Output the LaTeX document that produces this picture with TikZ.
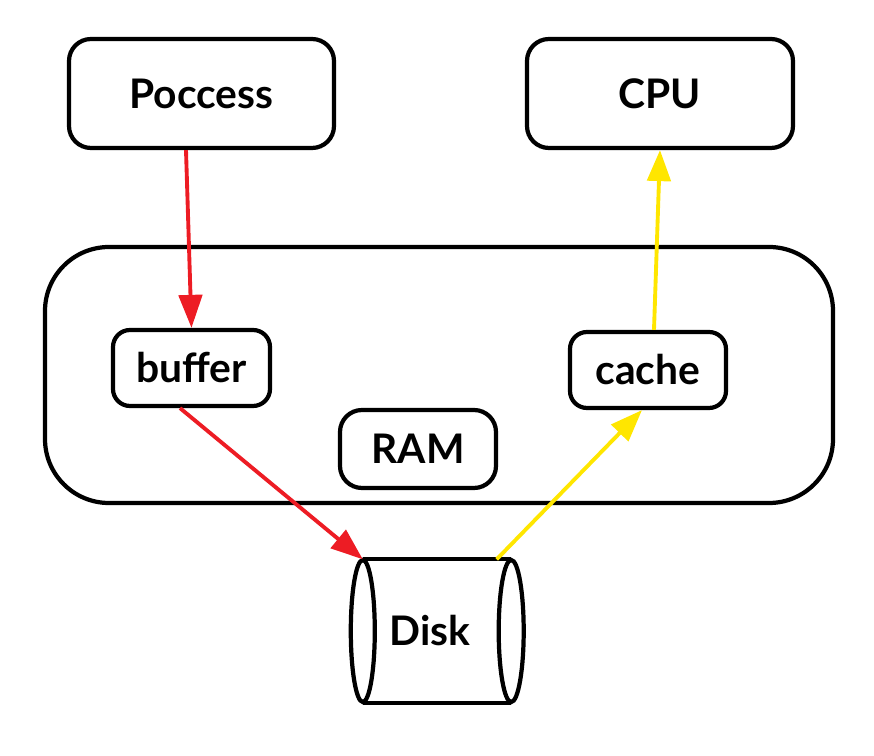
\documentclass[tikz,border=0pt]{standalone}
\usepackage{fontspec}
\setmainfont{Lato}
\usepackage{xcolor}
\usetikzlibrary{shapes,arrows,positioning,calc,arrows.meta}
\definecolor{flowred}{RGB}{237,28,36}
\definecolor{flowyellow}{RGB}{255,230,0}

\begin{document}
\begin{tikzpicture}[
    box/.style={draw, line width=1.2pt, rounded corners=0.22cm, inner sep=0pt,
        font=\fontsize{11.6}{13}\selectfont\bfseries},
    flow/.style={line width=1.1pt, -{Triangle[length=#1]}},
    redflow/.style={draw=flowred, fill=flowred},
    yellowflow/.style={draw=flowyellow, fill=flowyellow}
]
    \useasboundingbox (0,0) rectangle (8.74,7.56);

    % Memory
    \node[draw, line width=1.2pt, rounded corners=0.64cm, minimum width=7.88cm, minimum height=2.56cm] (ram) at (4.39,3.81) {};
    \node[box, minimum width=1.56cm, minimum height=0.78cm] (ramlabel) at (4.18,3.07) {RAM};
    \node[box, rounded corners=0.17cm, minimum width=1.57cm, minimum height=0.76cm] (buffer) at (1.915,3.88) {buffer};
    \node[box, rounded corners=0.17cm, minimum width=1.56cm, minimum height=0.76cm] (cache) at (6.48,3.86) {cache};

    % Top boxes
    \node[box, minimum width=2.65cm, minimum height=1.09cm] (process) at (2.015,6.625) {Poccess};
    \node[box, minimum width=2.66cm, minimum height=1.09cm] (cpu) at (6.60,6.625) {CPU};

    % Disk
    \node[minimum width=1.47cm, minimum height=1.42cm, inner sep=0pt] (disk) at (4.37,1.25) {};
    \node[font=\fontsize{11.6}{13}\selectfont\bfseries, inner sep=0pt] (disklabel) at ([xshift=-0.07cm]disk.center) {Disk};
    \draw[line width=1.2pt] (disk.north west) -- (disk.north east)
        (disk.south west) -- (disk.south east);
    \draw[line width=1.2pt] (disk.west) ellipse (0.12cm and 0.71cm);
    \draw[line width=1.2pt] (disk.east) ellipse (0.125cm and 0.71cm);

    % Write path
    \draw[redflow, flow={3.3mm 0 0 width 2mm}] ([xshift=-1.55mm]process.south) -- (buffer.north);
    \draw[redflow, flow={3.2mm 0 0 width 3mm}] ([xshift=-1.15mm]buffer.south) -- (disk.north west);

    % Read path
    \draw[yellowflow, flow={3.2mm 0 0 width 3.4mm}] ([xshift=-1.45mm]disk.north east) -- ([xshift=-0.6mm]cache.south);
    \draw[yellowflow, flow={3.1mm 0 0 width 2.2mm}] ([xshift=0.6mm]cache.north) -- (cpu.south);
\end{tikzpicture}
\end{document}
